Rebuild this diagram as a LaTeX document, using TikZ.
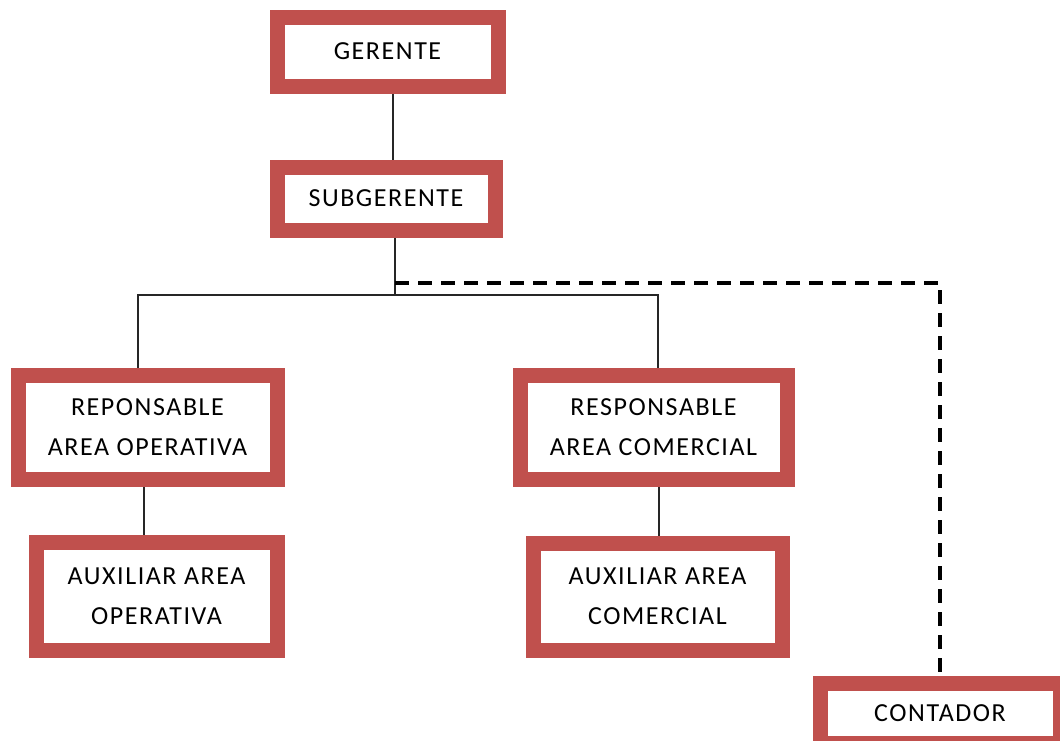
\documentclass[tikz,border=0pt]{standalone}
\usepackage{fontspec}
\setmainfont{Carlito}[LetterSpace=6]
\usetikzlibrary{backgrounds}
\definecolor{boxred}{HTML}{C0504D}

\begin{document}
\begin{tikzpicture}[x=1pt, y=-1pt, align=center, font=\fontsize{26}{40}\selectfont,
  cargo/.style={draw=boxred, line width=15pt, fill=white, inner sep=0pt},
  link/.style={line width=2pt, draw=black!85},
  dotlink/.style={line width=4pt, dash pattern=on 14pt off 9pt}]

\useasboundingbox (0,0) rectangle (1060,740);
\clip (0,0) rectangle (1060,740);

% Top
\node[cargo, minimum width=221pt, minimum height=69pt] (ger) at (387.5,51.5) {GERENTE};
\node[cargo, minimum width=218pt, minimum height=63pt] (sub) at (386,198.5) {SUBGERENTE};

% Responsables
\node[cargo, minimum width=259pt, minimum height=104pt] (rop) at (147.5,427) {REPONSABLE\\AREA OPERATIVA};
\node[cargo, minimum width=267pt, minimum height=104pt] (rcom) at (653.5,427) {RESPONSABLE\\AREA COMERCIAL};

% Auxiliares
\node[cargo, minimum width=241pt, minimum height=108pt] (aop) at (156.5,596) {AUXILIAR AREA\\OPERATIVA};
\node[cargo, minimum width=249pt, minimum height=107pt] (acom) at (657.5,596.5) {AUXILIAR AREA\\COMERCIAL};

% Contador
\node[cargo, minimum width=240pt, minimum height=60pt] (cont) at (940,713) {CONTADOR};

\coordinate (bus) at (395,295);
\coordinate (split) at (395,283);

% Lines
\begin{scope}[on background layer]
\draw[link] ([xshift=5.5pt]ger.south) -- ([xshift=7pt]sub.north);
\draw[link] ([xshift=9pt]sub.south) -- (bus);
\draw[link] ([xshift=-9.5pt]rop.north) |- (bus) -| ([xshift=4.5pt]rcom.north);
\draw[link] ([xshift=-3.5pt]rop.south) -- ([xshift=-12.5pt]aop.north);
\draw[link] ([xshift=5.5pt]rcom.south) -- ([xshift=1.5pt]acom.north);
\draw[dotlink] (split) -| (cont.north);
\end{scope}

\end{tikzpicture}
\end{document}
